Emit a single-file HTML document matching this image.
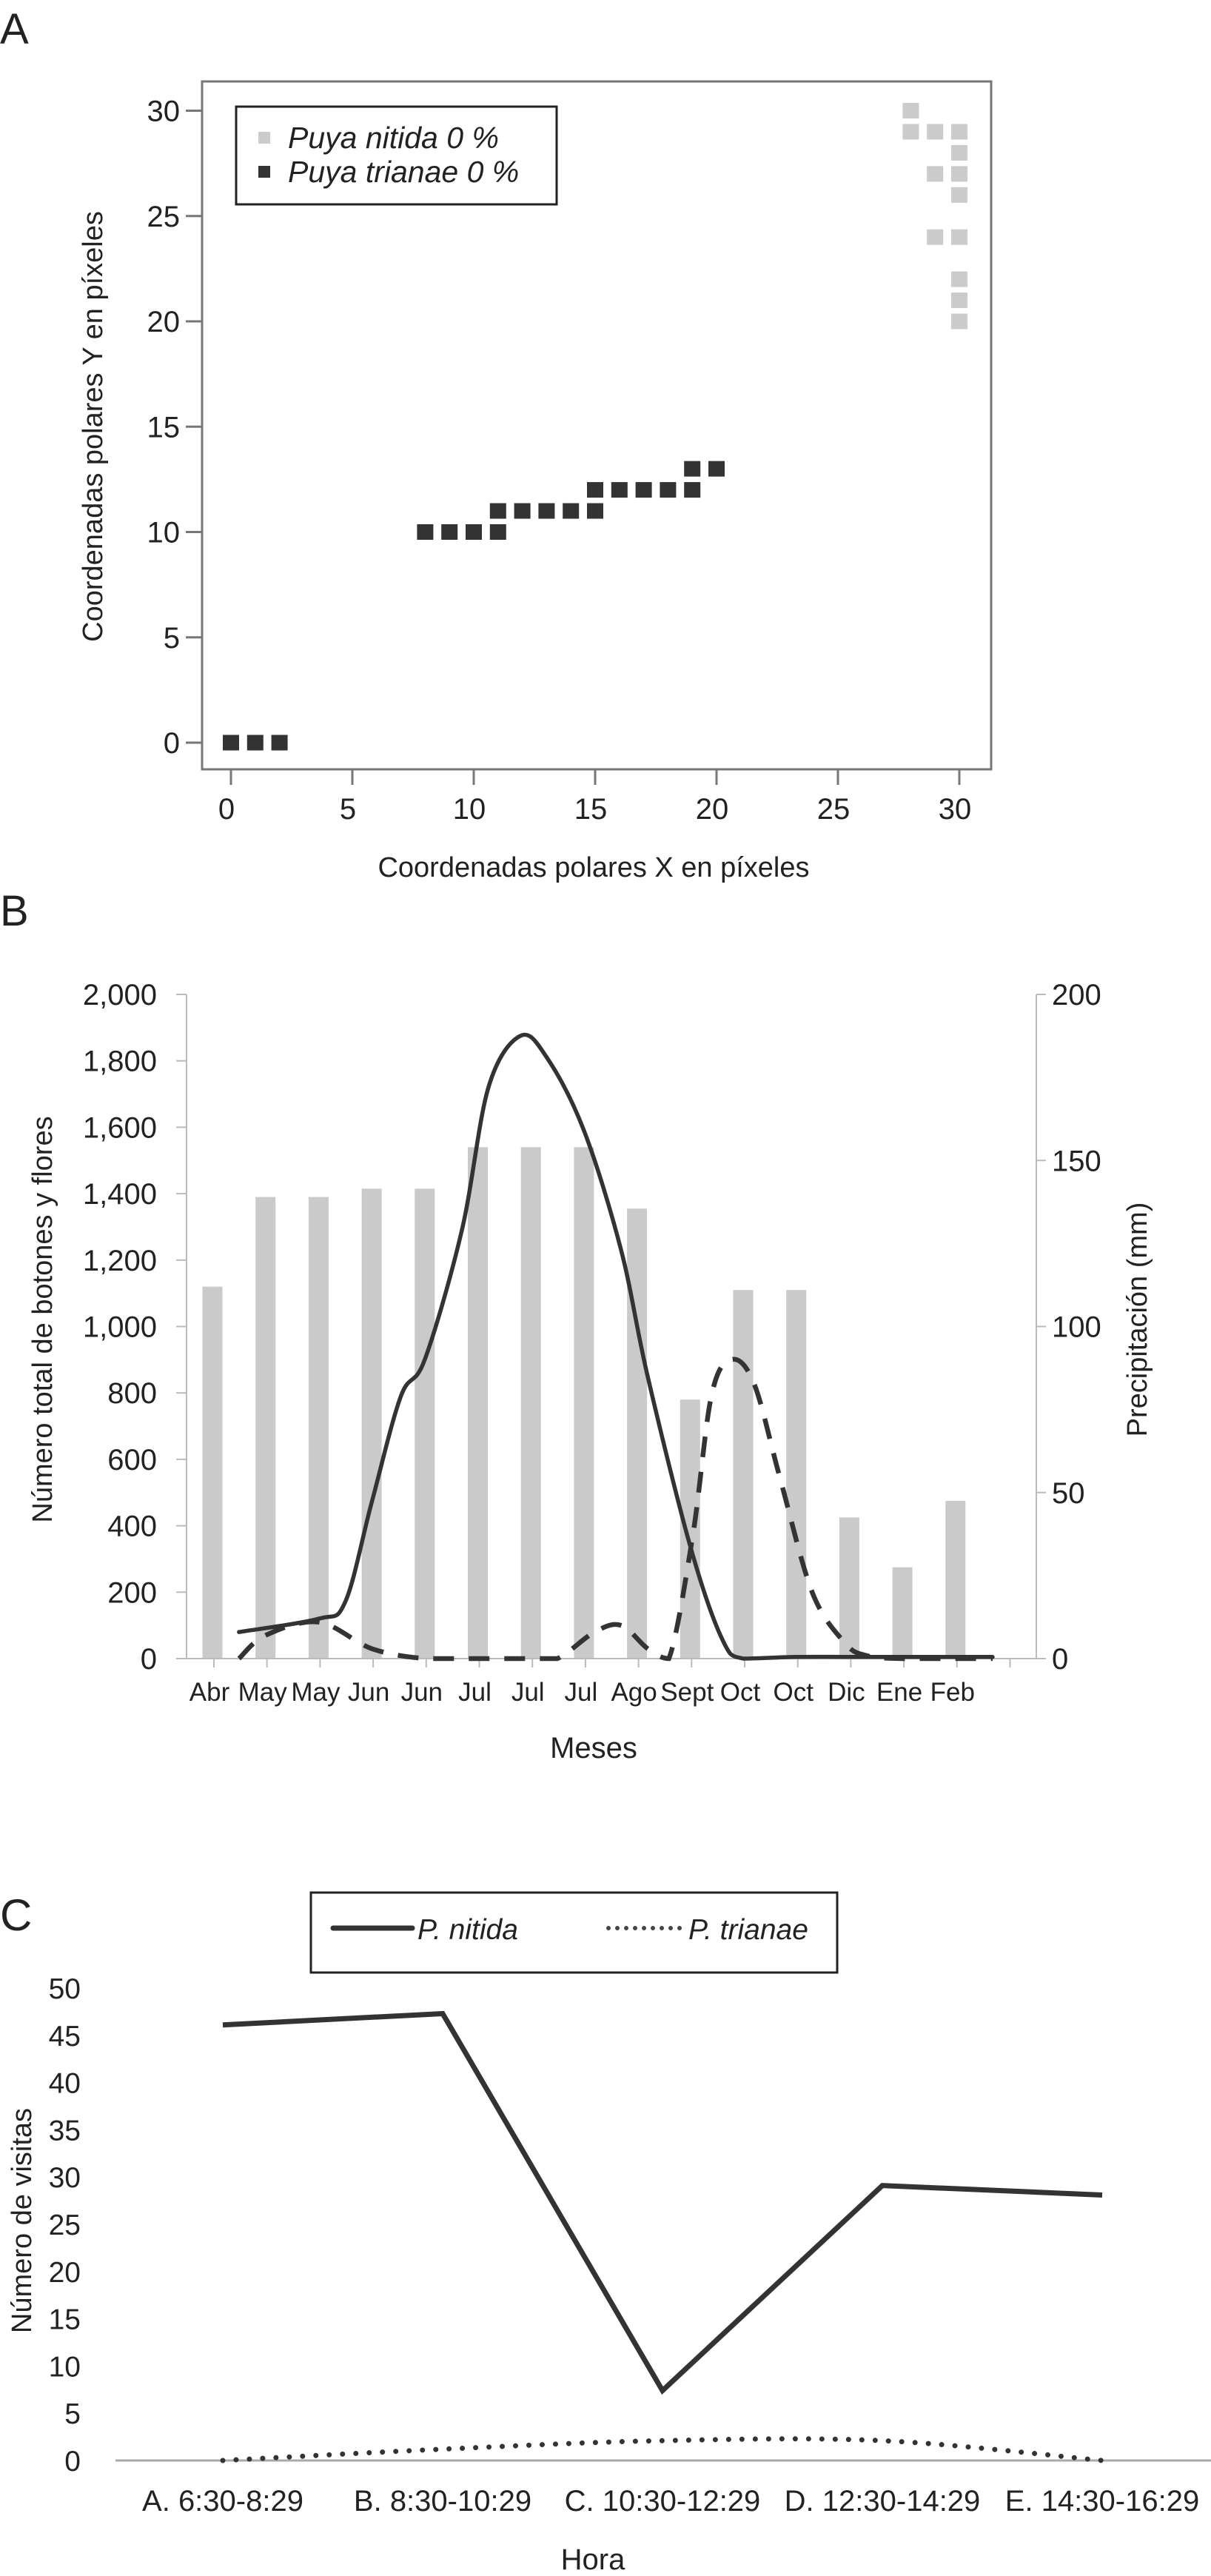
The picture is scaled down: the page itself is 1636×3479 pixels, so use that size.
<!DOCTYPE html>
<html><head><meta charset="utf-8">
<style>
html,body{margin:0;padding:0;background:#fff;}
svg{display:block;font-family:"Liberation Sans",Arial,sans-serif;}
</style></head>
<body>
<svg id="fig" width="1636" height="3479" viewBox="0 0 1636 3479" xmlns="http://www.w3.org/2000/svg">
<rect width="1636" height="3479" fill="#fff"/>
<g id="pa"></g>
<g id="pb"></g>
<g id="pc"></g>
</svg>
<script>
// ---------- Panel A data ----------
const aXTicks = [0,5,10,15,20,25,30];
const aYTicks = [0,5,10,15,20,25,30];
const trianaeX = [0,1,2,8,9,10,11,11,12,13,14,15,15,16,17,18,19,19,20];
const trianaeY = [0,0,0,10,10,10,10,11,11,11,11,11,12,12,12,12,12,13,13];
const nitidaX = [28,28,29,30,30,29,30,30,29,30,30,30,30];
const nitidaY = [30,29,29,29,28,27,27,26,24,24,22,21,20];

// ---------- Panel B data ----------
const months = ["Abr","May","May","Jun","Jun","Jul","Jul","Jul","Ago","Sept","Oct","Oct","Dic","Ene","Feb"];
const barValues = [1120,1390,1390,1415,1415,1540,1540,1540,1355,780,1110,1110,425,275,475];
const leftTicks = [0,200,400,600,800,1000,1200,1400,1600,1800,2000];
const rightTicks = [0,50,100,150,200];
const solidIdx = [0.5,2.0,2.5,3.0,3.55,4.0,4.7,5.2,5.8,6.3,7.0,7.7,8.2,9.0,9.6,10.0,11.0,12.0,13.0,14.7];
const solidVal = [80,120,170,470,790,900,1290,1720,1875,1810,1590,1230,850,340,60,0,5,5,5,5];
const dashIdx = [0.5,1.0,2.0,3.0,4.0,5.0,6.0,6.5,7.2,7.7,8.2,8.6,9.05,9.4,9.77,10.2,10.7,11.3,11.9,12.3,13.0,14.7];
const dashVal = [0,7,11,3,0,0,0,0,8,10,3,0,37,79,90,83,54,20,5,1,0,0];

// ---------- Panel C data ----------
const hours = ["A. 6:30-8:29","B. 8:30-10:29","C. 10:30-12:29","D. 12:30-14:29","E. 14:30-16:29"];
const nitidaVisits = [46.1,47.3,7.4,29.1,28.1];
const trianaeVisits = [0,1.2,2.1,2.1,0];
const cTicks = [0,5,10,15,20,25,30,35,40,45,50];

const NS="http://www.w3.org/2000/svg";
function mk(parent, tag, attrs, text){
  const e=document.createElementNS(NS,tag);
  for(const k in attrs) e.setAttribute(k,attrs[k]);
  if(text!==undefined) e.textContent=text;
  parent.appendChild(e); return e;
}
function smoothPath(pts, maxY){
  const cl=y=>(maxY!==undefined && y>maxY)?maxY:y;
  let d="M"+pts[0][0]+","+pts[0][1];
  for(let i=0;i<pts.length-1;i++){
    const p0=pts[Math.max(0,i-1)],p1=pts[i],p2=pts[i+1],p3=pts[Math.min(pts.length-1,i+2)];
    const c1x=p1[0]+(p2[0]-p0[0])/6,c1y=cl(p1[1]+(p2[1]-p0[1])/6);
    const c2x=p2[0]-(p3[0]-p1[0])/6,c2y=cl(p2[1]-(p3[1]-p1[1])/6);
    d+=" C"+c1x+","+c1y+" "+c2x+","+c2y+" "+p2[0]+","+p2[1];
  }
  return d;
}

// ================= PANEL A =================
(function(){
  const g=document.getElementById('pa');
  const ax=v=>312+v*32.8, ay=v=>1003-v*28.45;
  let t=mk(g,'text',{x:0,y:59,'font-size':58,fill:'#222'},'A');
   
  let f=mk(g,'rect',{x:273,y:110,width:1066,height:929,fill:'none',stroke:'#777','stroke-width':3});
   
  aXTicks.forEach(v=>{
    mk(g,'line',{x1:ax(v),x2:ax(v),y1:1039,y2:1060,stroke:'#777','stroke-width':3});
    const l=mk(g,'text',{x:ax(v)-6,y:1106,'font-size':40,'text-anchor':'middle',fill:'#222'},v);
     
  });
  aYTicks.forEach(v=>{
    mk(g,'line',{x1:251,x2:273,y1:ay(v),y2:ay(v),stroke:'#777','stroke-width':3});
    const l=mk(g,'text',{x:243,y:ay(v)+14,'font-size':40,'text-anchor':'end',fill:'#222'},v);
     
  });
  nitidaX.forEach((x,i)=>{
    const r=mk(g,'rect',{x:ax(x)-11,y:ay(nitidaY[i])-10.5,width:22,height:21,fill:'#cbcbcb'});
     
  });
  trianaeX.forEach((x,i)=>{
    const r=mk(g,'rect',{x:ax(x)-11,y:ay(trianaeY[i])-10.5,width:22,height:21,fill:'#333'});
     
  });
  const lg=mk(g,'g',{});  
  mk(lg,'rect',{x:319,y:144,width:433,height:132,fill:'#fff',stroke:'#222','stroke-width':3});
  mk(lg,'rect',{x:349,y:178,width:16,height:16,fill:'#cbcbcb'});
  mk(lg,'rect',{x:349,y:224,width:16,height:16,fill:'#333'});
  let e1=mk(lg,'text',{x:389,y:200,'font-size':41,'font-style':'italic',fill:'#222'},'Puya nitida 0 %');
   
  let e2=mk(lg,'text',{x:389,y:246,'font-size':41,'font-style':'italic',fill:'#222'},'Puya trianae 0 %');
   
  let xt=mk(g,'text',{x:802,y:1184,'font-size':38,'text-anchor':'middle',fill:'#222'},'Coordenadas polares X en píxeles');
   
  let yt=mk(g,'text',{x:0,y:0,'font-size':38,'text-anchor':'middle',fill:'#222',transform:'translate(138,576) rotate(-90)'},'Coordenadas polares Y en píxeles');
   
})();

// ================= PANEL B =================
(function(){
  const g=document.getElementById('pb');
  const bx=i=>287+i*71.7, by=v=>2240-v*(897/2000), byr=v=>2240-v*(897/200);
  let t=mk(g,'text',{x:0,y:1250,'font-size':58,fill:'#222'},'B');
   
  barValues.forEach((v,i)=>{
    const r=mk(g,'rect',{x:bx(i)-13.5,y:by(v),width:27,height:2240-by(v),fill:'#cacaca'});
     
  });
  mk(g,'line',{x1:252,x2:252,y1:1343,y2:2240,stroke:'#bbb','stroke-width':2});
  mk(g,'line',{x1:1400,x2:1400,y1:1343,y2:2240,stroke:'#bbb','stroke-width':2});
  mk(g,'line',{x1:240,x2:1400,y1:2240,y2:2240,stroke:'#bbb','stroke-width':2});
  for(let i=0;i<=months.length;i++) mk(g,'line',{x1:bx(i)+2,x2:bx(i)+2,y1:2240,y2:2252,stroke:'#bbb','stroke-width':2});
  leftTicks.forEach(v=>{
    mk(g,'line',{x1:238,x2:252,y1:by(v),y2:by(v),stroke:'#bbb','stroke-width':2});
    const l=mk(g,'text',{x:212,y:by(v)+14,'font-size':40,'text-anchor':'end',fill:'#222'},v.toLocaleString('en-US'));
     
  });
  rightTicks.forEach(v=>{
    mk(g,'line',{x1:1400,x2:1413,y1:byr(v),y2:byr(v),stroke:'#bbb','stroke-width':2});
    const l=mk(g,'text',{x:1421,y:byr(v)+14,'font-size':40,fill:'#222'},v);
     
  });
  months.forEach((m,i)=>{
    const l=mk(g,'text',{x:bx(i)-4,y:2297,'font-size':35,'text-anchor':'middle',fill:'#222'},m);
     
  });
  const sp=solidIdx.map((x,i)=>[bx(x),by(solidVal[i])]);
  let s=mk(g,'path',{d:smoothPath(sp,2240),fill:'none',stroke:'#333','stroke-width':5.5,'stroke-linecap':'round'});
   
  const dp=dashIdx.map((x,i)=>[bx(x),byr(dashVal[i])]);
  let d=mk(g,'path',{d:smoothPath(dp,2240),fill:'none',stroke:'#333','stroke-width':6.5,'stroke-dasharray':'28 20'});
   
  let xt=mk(g,'text',{x:802,y:2374,'font-size':40,'text-anchor':'middle',fill:'#222'},'Meses');
   
  let yl=mk(g,'text',{x:0,y:0,'font-size':38,'text-anchor':'middle',fill:'#222',transform:'translate(70,1782) rotate(-90)'},'Número total de botones y flores');
   
  let yr=mk(g,'text',{x:0,y:0,'font-size':38,'text-anchor':'middle',fill:'#222',transform:'translate(1549,1782) rotate(-90)'},'Precipitación (mm)');
   
})();

// ================= PANEL C =================
(function(){
  const g=document.getElementById('pc');
  const cx=i=>301+i*297, cy=v=>3323-v*12.76;
  let t=mk(g,'text',{x:0,y:2607,'font-size':60,fill:'#222'},'C');
   
  const lg=mk(g,'g',{});  
  mk(lg,'rect',{x:420,y:2556,width:711,height:108,fill:'#fff',stroke:'#222','stroke-width':3});
  mk(lg,'line',{x1:450,x2:557,y1:2604,y2:2604,stroke:'#333','stroke-width':7,'stroke-linecap':'round'});
  let l1=mk(lg,'text',{x:564,y:2619,'font-size':39,'font-style':'italic',fill:'#222'},'P. nitida');
   
  mk(lg,'line',{x1:822,x2:925,y1:2604,y2:2604,stroke:'#444','stroke-width':6,'stroke-dasharray':'0 12','stroke-linecap':'round'});
  let l2=mk(lg,'text',{x:930,y:2619,'font-size':39,'font-style':'italic',fill:'#222'},'P. trianae');
   
  mk(g,'line',{x1:156,x2:1636,y1:3323,y2:3323,stroke:'#aaa','stroke-width':3});
  cTicks.forEach(v=>{
    const l=mk(g,'text',{x:109,y:cy(v)+14,'font-size':39,'text-anchor':'end',fill:'#222'},v);
     
  });
  hours.forEach((h,i)=>{
    const l=mk(g,'text',{x:cx(i),y:3391,'font-size':40,'text-anchor':'middle',fill:'#222'},h);
     
  });
  const tp=trianaeVisits.map((v,i)=>[cx(i),cy(v)]);
  let tl=mk(g,'path',{d:smoothPath(tp,3323),fill:'none',stroke:'#333','stroke-width':7,'stroke-dasharray':'0 18','stroke-linecap':'round'});
   
  const np=nitidaVisits.map((v,i)=>cx(i)+","+cy(v)).join(" ");
  let nl=mk(g,'polyline',{points:np,fill:'none',stroke:'#333','stroke-width':7,'stroke-linejoin':'miter'});
   
  let xt=mk(g,'text',{x:801,y:3470,'font-size':40,'text-anchor':'middle',fill:'#222'},'Hora');
   
  let yt=mk(g,'text',{x:0,y:0,'font-size':38,'text-anchor':'middle',fill:'#222',transform:'translate(42,2999) rotate(-90)'},'Número de visitas');
   
})();
</script>
</body></html>
